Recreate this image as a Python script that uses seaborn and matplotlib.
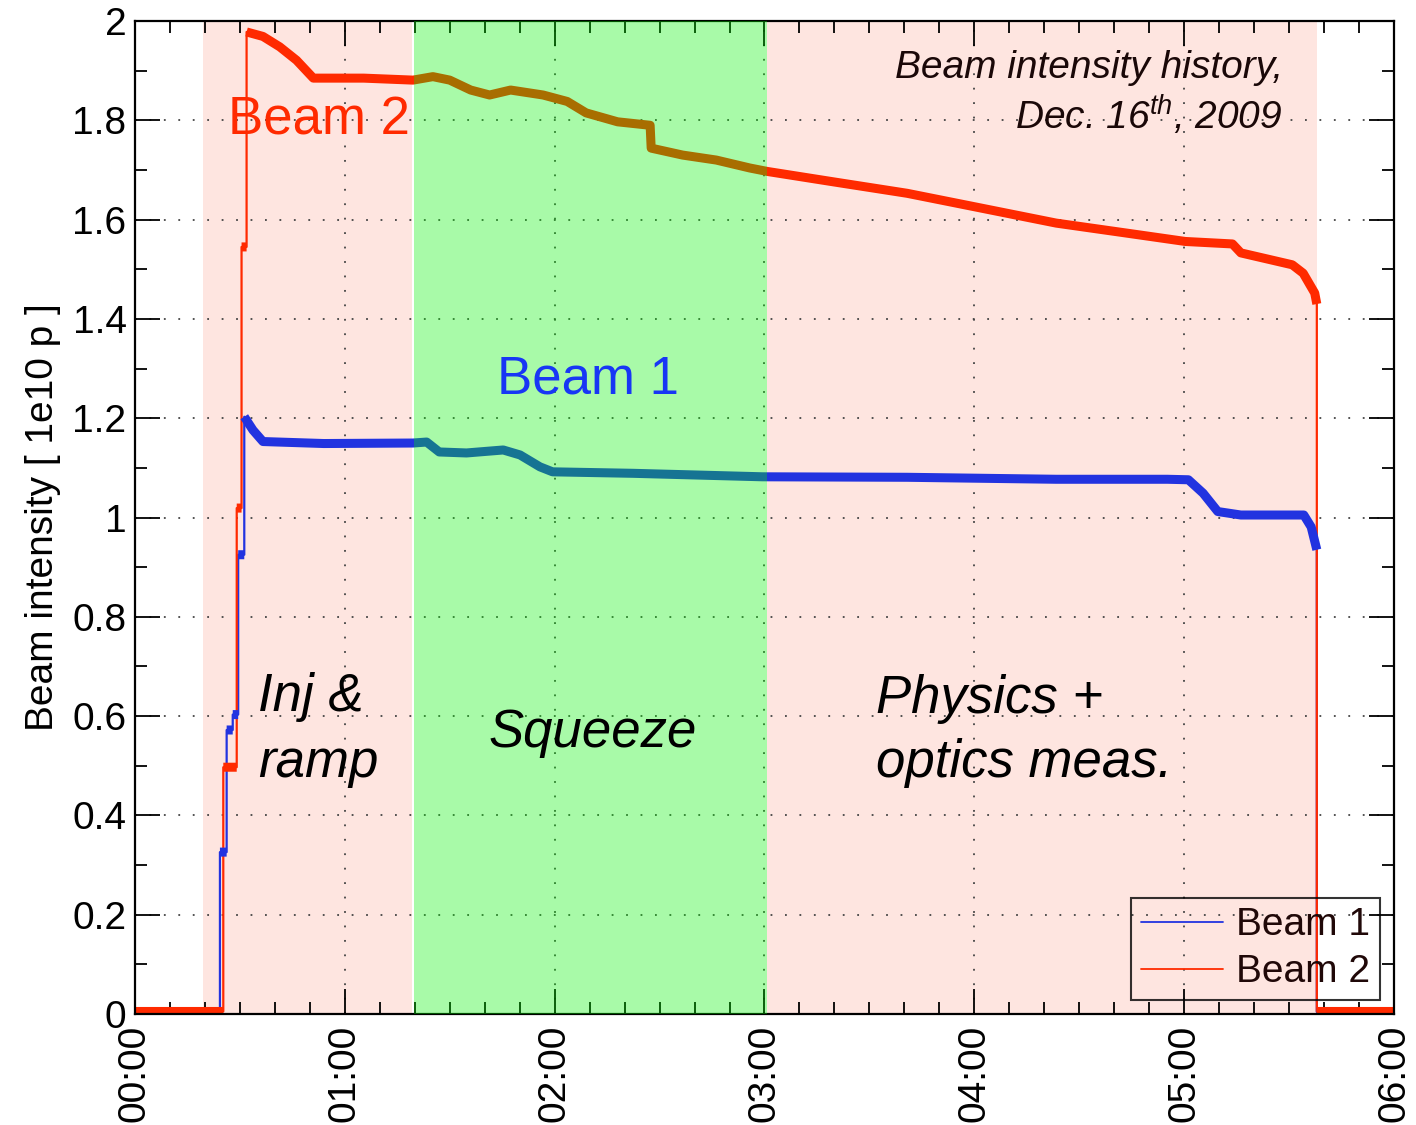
import numpy as np
import pandas as pd
import matplotlib
matplotlib.use("Agg")
import matplotlib.pyplot as plt
from matplotlib.ticker import MultipleLocator, FixedLocator
import seaborn as sns

# ---- data (time in hours since 00:00, intensity in 1e10 protons) ----
beam1_t = [0.0, 0.405, 0.405, 0.437, 0.437, 0.466, 0.466, 0.492, 0.492, 0.521,
           0.521, 0.5625, 0.61, 0.90, 1.325, 1.39, 1.45, 1.58, 1.755, 1.835,
           1.93, 1.99, 2.375, 2.99, 3.68, 4.39, 4.92, 5.02, 5.09, 5.16,
           5.27, 5.57, 5.605, 5.632, 5.632, 6.0]
beam1_i = [0.004, 0.004, 0.326, 0.326, 0.572, 0.572, 0.603, 0.603, 0.925, 0.925,
           1.203, 1.176, 1.153, 1.149, 1.150, 1.152, 1.132, 1.130, 1.136, 1.126,
           1.102, 1.092, 1.089, 1.082, 1.081, 1.077, 1.077, 1.076, 1.049, 1.012,
           1.005, 1.005, 0.981, 0.935, 0.004, 0.004]

beam2_t = [0.0, 0.421, 0.421, 0.485, 0.485, 0.508, 0.508, 0.532, 0.532, 0.61,
           0.69, 0.77, 0.85, 1.09, 1.325, 1.42, 1.50, 1.60, 1.69, 1.79,
           1.945, 2.06, 2.15, 2.30, 2.455, 2.46, 2.61, 2.77, 2.93, 3.014,
           3.33, 3.68, 4.00, 4.39, 4.74, 5.005, 5.23, 5.27, 5.515, 5.567,
           5.622, 5.632, 5.632, 6.0]
beam2_i = [0.005, 0.005, 0.497, 0.497, 1.019, 1.019, 1.545, 1.545, 1.978, 1.969,
           1.948, 1.921, 1.885, 1.885, 1.881, 1.888, 1.881, 1.861, 1.851, 1.861,
           1.851, 1.838, 1.815, 1.797, 1.790, 1.744, 1.730, 1.720, 1.704, 1.697,
           1.676, 1.653, 1.626, 1.593, 1.572, 1.556, 1.551, 1.533, 1.509, 1.492,
           1.452, 1.430, 0.005, 0.005]

beam_names = ["Beam 1", "Beam 2"]
hour_labels = ["00:00", "01:00", "02:00", "03:00", "04:00", "05:00", "06:00"]

# machine phases (hours)
injection_phase = (0.324, 1.318)
squeeze_phase = (1.328, 3.012)
physics_phase = (3.012, 5.632)

colors = {"Beam 1": "#2233e0", "Beam 2": "#ff2a00"}

df = pd.concat([
    pd.DataFrame({"time": beam1_t, "intensity": beam1_i, "beam": beam_names[0]}),
    pd.DataFrame({"time": beam2_t, "intensity": beam2_i, "beam": beam_names[1]}),
], ignore_index=True)

sns.set_style("ticks")
plt.rcParams["font.family"] = ["Liberation Sans", "DejaVu Sans"]
plt.rcParams["mathtext.fontset"] = "custom"
plt.rcParams["mathtext.rm"] = "Liberation Sans"
plt.rcParams["mathtext.it"] = "Liberation Sans:italic"
plt.rcParams["text.color"] = "black"
plt.rcParams["axes.labelcolor"] = "black"
plt.rcParams["xtick.color"] = "black"
plt.rcParams["ytick.color"] = "black"

fig = plt.figure(figsize=(14.16, 11.25), dpi=100)
ax = fig.add_axes([0.0953, 0.0987, 0.8892, 0.8826])

# phase shading
ax.axvspan(*injection_phase, color="#fee5e0", lw=0, zorder=0.2)
ax.axvspan(*physics_phase, color="#fee5e0", lw=0, zorder=0.2)
ax.axvspan(*squeeze_phase, color=(0.0, 0.95, 0.0), alpha=0.34, lw=0, zorder=3)

# thin trace (also used for the legend)
sns.lineplot(data=df, x="time", y="intensity", hue="beam", palette=colors,
             estimator=None, sort=False, lw=1.6, ax=ax, zorder=2)

# thicker band where the intensity is recorded continuously (not the injection jumps)
def continuous_parts(t, v):
    t = np.asarray(t, float)
    v = np.asarray(v, float)
    ts, vs = [t[0]], [v[0]]
    for k in range(1, len(t)):
        if t[k] == t[k - 1]:
            ts.append(np.nan)
            vs.append(np.nan)
        ts.append(t[k])
        vs.append(v[k])
    return np.array(ts), np.array(vs)

for name, t, v in [("Beam 1", beam1_t, beam1_i), ("Beam 2", beam2_t, beam2_i)]:
    tt, vv = continuous_parts(t, v)
    ax.plot(tt, vv, color=colors[name], lw=6.5, solid_capstyle="butt", zorder=2.2)

ax.set_xlim(0, 6)
ax.set_ylim(0, 2)
ax.xaxis.set_major_locator(FixedLocator(range(len(hour_labels))))
ax.set_xticklabels(hour_labels, rotation=90)
ax.xaxis.set_minor_locator(MultipleLocator(1 / 6))
ax.set_yticks(np.arange(0, 2.01, 0.2))
ax.set_yticklabels(["0", "0.2", "0.4", "0.6", "0.8", "1", "1.2", "1.4", "1.6", "1.8", "2"])
ax.yaxis.set_minor_locator(MultipleLocator(0.1))

ax.tick_params(which="both", direction="in", top=True, right=True, colors="black",
               labelsize=28, width=1.3)
ax.tick_params(which="major", length=18, pad=6)
ax.tick_params(axis="x", which="major", pad=8)
ax.tick_params(which="minor", length=8.5)
for s in ax.spines.values():
    s.set_linewidth(1.6)
    s.set_color("black")

ax.grid(True, which="major", color="#444444", lw=1.3, linestyle=(0, (1, 7)))
ax.set_axisbelow(True)
ax.set_xlabel("")
ax.set_ylabel("Beam intensity [ 1e10 p ]", fontsize=28, labelpad=8, color="black")

# annotations
ax.text(0.877, 1.80, "Beam 2", color="#ff2a00", fontsize=38, ha="center", va="center", zorder=5)
ax.text(2.16, 1.277, "Beam 1", color="#1836f5", fontsize=38, ha="center", va="center", zorder=5)
ax.text(0.586, 0.572, "Inj &\nramp", fontsize=38, style="italic", ha="left", va="center",
        linespacing=1.4, color="black", zorder=5)
ax.text(2.18, 0.566, "Squeeze", fontsize=38, style="italic", ha="center", va="center",
        color="black", zorder=5)
ax.text(3.53, 0.570, "Physics +\noptics meas.", fontsize=38, style="italic", ha="left",
        va="center", linespacing=1.37, color="black", zorder=5)
ax.text(5.47, 1.905, "Beam intensity history,", fontsize=28, style="italic", color="#1a0808",
        ha="right", va="center", zorder=5)
ax.text(5.47, 1.81, r"Dec. 16$^{\mathit{th}}$, 2009", fontsize=28, style="italic",
        color="#1a0808", ha="right", va="center", zorder=5)

leg = ax.legend(loc="lower right", bbox_to_anchor=(0.989, 0.014), borderaxespad=0,
                fontsize=28, frameon=True, fancybox=False, handlelength=2.1,
                handletextpad=0.35, labelspacing=0.28, borderpad=0.25, title=None)
leg.get_frame().set_facecolor("none")
leg.get_frame().set_edgecolor("black")
leg.get_frame().set_linewidth(1.5)
for txt in leg.get_texts():
    txt.set_color("#200808")
for line in leg.get_lines():
    line.set_linewidth(1.3)

fig.savefig("out.png", dpi=100)
